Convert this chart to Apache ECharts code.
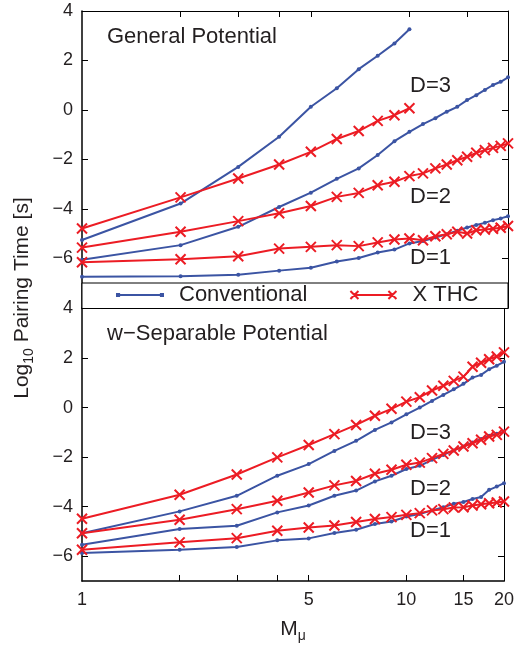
<!DOCTYPE html>
<html>
<head>
<meta charset="utf-8">
<script src="https://cdn.jsdelivr.net/npm/echarts@6/dist/echarts.min.js"></script>
<style>
html, body { margin: 0; padding: 0; background: #fff; }
#main { width: 517px; height: 648px; }
</style>
</head>
<body>
<div id="main"></div>
<script>
var chart = echarts.init(document.getElementById('main'));

// M values (x axis, log scale)
var M = [1, 2, 3, 4, 5, 6, 7, 8, 9, 10, 11, 12, 13, 14, 15, 16, 17, 18, 19, 20];
var xTicks = [2, 3, 4, 5, 10, 15];
var xLabels = [1, 5, 10, 15, 20];
var yLabels = [-6, -4, -2, 0, 2, 4];

// General potential
var genConv3 = [-5.25, -3.78, -2.30, -1.08, 0.13, 0.88, 1.65, 2.19, 2.69, 3.26];
var genX3 = [-4.79, -3.53, -2.77, -2.20, -1.69, -1.17, -0.85, -0.44, -0.21, 0.07];
var genConv2 = [-6.05, -5.46, -4.72, -3.92, -3.34, -2.78, -2.36, -1.82, -1.26, -0.88, -0.57, -0.33, -0.07, 0.13, 0.40, 0.60, 0.81, 1.01, 1.14, 1.32];
var genX2 = [-5.56, -4.92, -4.49, -4.17, -3.88, -3.51, -3.35, -3.04, -2.90, -2.67, -2.56, -2.36, -2.20, -2.03, -1.89, -1.73, -1.62, -1.53, -1.45, -1.35];
var genConv1 = [-6.74, -6.72, -6.66, -6.49, -6.37, -6.12, -5.98, -5.76, -5.64, -5.39, -5.29, -5.15, -5.02, -4.88, -4.75, -4.65, -4.56, -4.45, -4.38, -4.29];
var genX1 = [-6.15, -6.03, -5.91, -5.60, -5.53, -5.46, -5.50, -5.35, -5.23, -5.19, -5.26, -5.10, -5.02, -4.92, -4.99, -4.86, -4.83, -4.80, -4.76, -4.69];

// w-separable potential
var sepConv3 = [-5.07, -4.19, -3.56, -2.75, -2.28, -1.75, -1.34, -0.90, -0.60, -0.27, 0.00, 0.27, 0.51, 0.74, 0.96, 1.21, 1.32, 1.55, 1.69, 1.85];
var sepX3 = [-4.49, -3.52, -2.70, -2.01, -1.51, -1.07, -0.70, -0.33, -0.05, 0.24, 0.42, 0.69, 0.88, 1.08, 1.25, 1.65, 1.81, 1.95, 2.06, 2.23];
var sepConv2 = [-5.54, -4.90, -4.77, -4.23, -3.95, -3.56, -3.35, -2.98, -2.75, -2.48, -2.35, -2.11, -1.91, -1.73, -1.57, -1.41, -1.27, -1.14, -1.06, -0.97];
var sepX2 = [-5.07, -4.53, -4.10, -3.76, -3.43, -3.14, -2.96, -2.67, -2.51, -2.31, -2.22, -2.04, -1.87, -1.73, -1.57, -1.44, -1.30, -1.17, -1.10, -0.97];
var sepConv1 = [-5.87, -5.74, -5.63, -5.36, -5.28, -5.06, -4.93, -4.70, -4.60, -4.40, -4.30, -4.15, -4.02, -3.88, -3.81, -3.69, -3.61, -3.32, -3.19, -3.05];
var sepX1 = [-5.74, -5.44, -5.27, -4.97, -4.84, -4.76, -4.62, -4.50, -4.42, -4.33, -4.26, -4.15, -4.10, -4.03, -4.02, -3.95, -3.90, -3.86, -3.83, -3.79];

var BLUE = '#3b54a3';
var RED = '#ec1c24';
var FONT = 'Liberation Sans, Arial, Helvetica, sans-serif';
var TXT = '#231f20';
var XMARK = 'path://M0,0L10,10M10,0L0,10';
// legend samples: line with a marker at each end
var ICON_CONV = 'path://M2,4L44,4M1,3L3,3L3,5L1,5ZM43,3L45,3L45,5L43,5Z';
var ICON_X = 'path://M0,0L8,8M8,0L0,8M4,4L42,4M38,0L46,8M46,0L38,8';

function pairs(vals) {
    return vals.map(function (v, i) { return [M[i], v]; });
}

function conv(vals, panel) {
    return {
        name: 'Conventional',
        type: 'line',
        xAxisIndex: panel * 2,
        yAxisIndex: panel * 2,
        data: pairs(vals),
        symbol: 'circle',
        symbolSize: 4,
        showAllSymbol: true,
        lineStyle: { color: BLUE, width: 2 },
        itemStyle: { color: BLUE, borderColor: BLUE, borderWidth: 0 },
        z: 2
    };
}

function xthc(vals, panel) {
    return {
        name: 'X THC',
        type: 'line',
        xAxisIndex: panel * 2,
        yAxisIndex: panel * 2,
        data: pairs(vals),
        symbol: XMARK,
        symbolSize: 10,
        showAllSymbol: true,
        lineStyle: { color: RED, width: 2 },
        itemStyle: { color: RED, borderColor: RED, borderWidth: 2 },
        z: 3
    };
}

function minus(v) {
    return String(v).replace('-', '\u2212');
}

function xAxisFor(grid, pos, showTicks, showLabels) {
    var ax = {
        type: 'log',
        logBase: 10,
        gridIndex: grid,
        position: pos,
        min: 1,
        max: 20,
        axisLine: { show: true, onZero: false, lineStyle: { color: '#000', width: pos === 'bottom' ? 1.5 : 1 } },
        axisTick: { show: showTicks, inside: true, length: 6, customValues: xTicks, lineStyle: { color: '#000', width: 1 } },
        axisLabel: { show: showLabels, customValues: xLabels, margin: 10, color: TXT, fontSize: 18, fontFamily: FONT },
        splitLine: { show: false },
        minorTick: { show: false }
    };
    return ax;
}

function yAxisFor(grid, pos, min, showLabels) {
    return {
        type: 'value',
        gridIndex: grid,
        position: pos,
        min: min,
        max: 4,
        axisLine: { show: true, onZero: false, lineStyle: { color: '#000', width: pos === 'left' ? 1.5 : 1 } },
        axisTick: { show: true, inside: true, length: 6, customValues: yLabels, lineStyle: { color: '#000', width: 1 } },
        axisLabel: { show: showLabels, customValues: yLabels, margin: 9, color: TXT, fontSize: 18, fontFamily: FONT, formatter: minus },
        splitLine: { show: false }
    };
}

var xAx = [
    xAxisFor(0, 'bottom', false, false),
    xAxisFor(0, 'top', true, false),
    xAxisFor(1, 'bottom', true, true),
    xAxisFor(1, 'top', false, false)
];
xAx[2].name = '{a|M}{b|\u03bc}';
xAx[2].nameLocation = 'middle';
xAx[2].nameGap = 34;
xAx[2].nameTextStyle = {
    color: TXT, fontFamily: FONT,
    rich: {
        a: { fontSize: 21, color: TXT, fontFamily: FONT },
        b: { fontSize: 14, color: TXT, fontFamily: FONT, padding: [14, 0, 0, 0] }
    }
};

var yAx = [
    yAxisFor(0, 'left', -8, true),
    yAxisFor(0, 'right', -8, false),
    yAxisFor(1, 'left', -7, true),
    yAxisFor(1, 'right', -7, false)
];

function label(text, x, y) {
    return {
        type: 'text', x: x, y: y, z: 20,
        style: { text: text, fill: TXT, fontSize: 22, fontFamily: FONT, verticalAlign: 'middle' }
    };
}

var option = {
    animation: false,
    backgroundColor: '#fff',
    grid: [
        { left: 82, top: 11, width: 426, height: 297 },
        { left: 82, top: 308.5, width: 426, height: 272.5 }
    ],
    xAxis: xAx,
    yAxis: yAx,
    legend: {
        left: 116,
        top: 284,
        padding: 0,
        itemWidth: 46,
        itemHeight: 8,
        itemGap: 42,
        z: 20,
        itemStyle: { borderWidth: 2 },
        textStyle: { color: TXT, fontSize: 22, fontFamily: FONT, padding: [0, 0, 0, 11] },
        data: [
            { name: 'Conventional', icon: ICON_CONV },
            { name: 'X THC', icon: ICON_X }
        ]
    },
    graphic: [
        {
            type: 'rect', z: 10,
            shape: { x: 82, y: 283, width: 426, height: 25.5 },
            style: { fill: '#fff', stroke: '#000', lineWidth: 1 }
        },
        label('General Potential', 107, 37),
        label('w\u2212Separable Potential', 107, 334),
        label('D=3', 410, 86),
        label('D=2', 410, 197),
        label('D=1', 410, 258),
        label('D=3', 410, 433),
        label('D=2', 410, 489),
        label('D=1', 410, 531),
        {
            type: 'text', x: 22, y: 298, rotation: Math.PI / 2, z: 20,
            style: {
                text: '{a|Log}{b|10}{a| Pairing Time [s]}',
                align: 'center', verticalAlign: 'middle',
                fill: TXT, fontFamily: FONT,
                rich: {
                    a: { fontSize: 21, fill: TXT, fontFamily: FONT },
                    b: { fontSize: 14, fill: TXT, fontFamily: FONT, padding: [14, 0, 0, 0] }
                }
            }
        }
    ],
    series: [
        conv(genConv3, 0), conv(genConv2, 0), conv(genConv1, 0),
        xthc(genX3, 0), xthc(genX2, 0), xthc(genX1, 0),
        conv(sepConv3, 1), conv(sepConv2, 1), conv(sepConv1, 1),
        xthc(sepX3, 1), xthc(sepX2, 1), xthc(sepX1, 1)
    ]
};
chart.setOption(option);
</script>
</body>
</html>
